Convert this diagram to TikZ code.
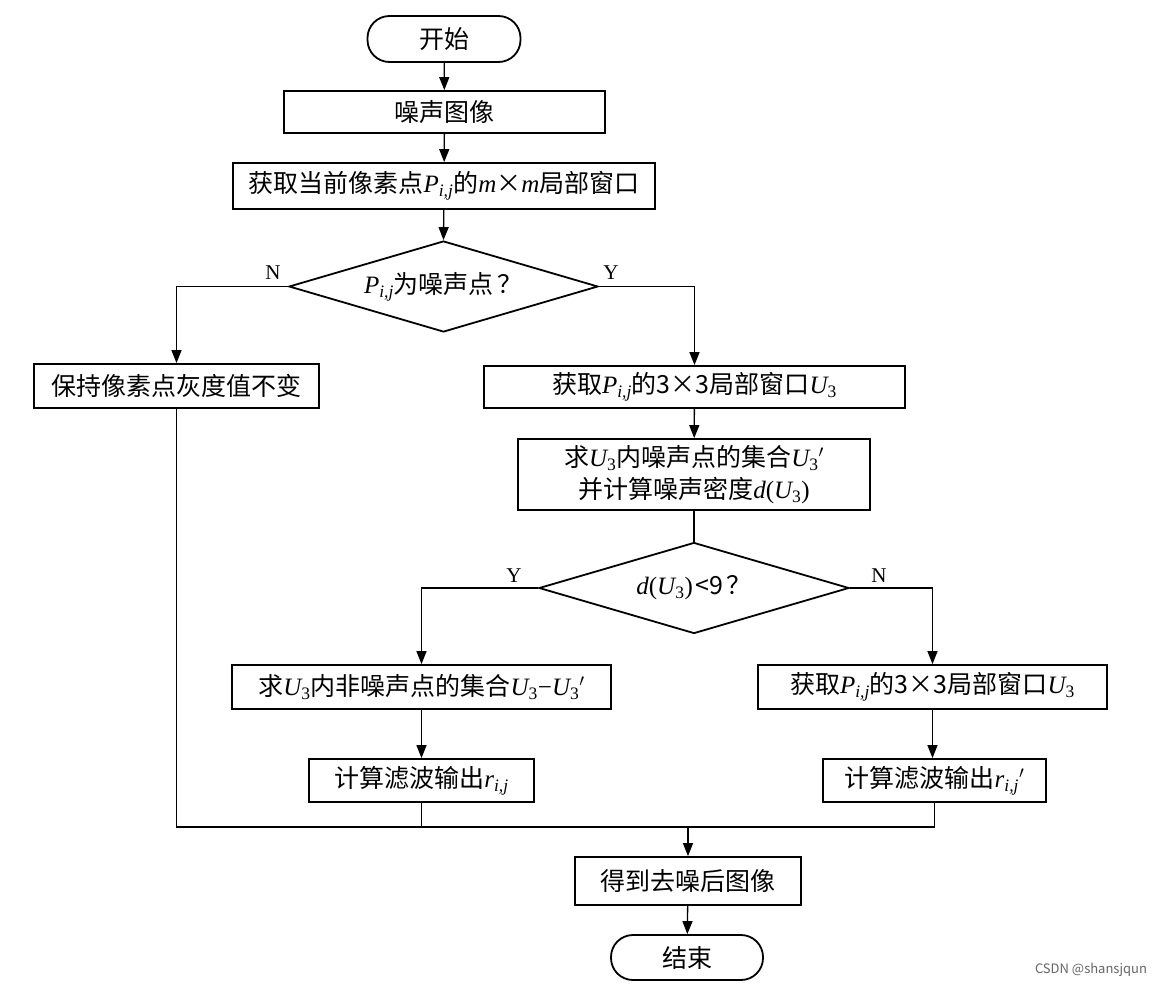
\documentclass[tikz,border=0pt]{standalone}
\usepackage{fontspec}
\setmainfont{Noto Sans CJK SC}
\newfontfamily\tnr{Liberation Serif}
\usetikzlibrary{arrows.meta,shapes.geometric}
\newcommand{\vi}[1]{{\tnr\itshape #1}}
\newcommand{\Pij}{\vi{P}\textsubscript{\vi{i,j}}}
\newcommand{\Uth}{\vi{U}\textsubscript{\tnr 3}}
\newcommand{\rij}{\vi{r}\textsubscript{\vi{i,j}}}
\newcommand{\fsz}{\fontsize{25}{32}\selectfont}
\tikzset{
  box/.style={draw, line width=1.8pt, inner sep=0pt, font=\fsz, align=center},
  term/.style={box, rounded corners=22pt},
  dec/.style={draw, diamond, line width=1.8pt, aspect=3.4, inner sep=0pt, font=\fsz},
  conn/.style={line width=1.3pt},
  arr/.style={conn, -{Triangle[length=13pt,width=10pt]}},
  yn/.style={font=\tnr\fontsize{21}{24}\selectfont, inner sep=0pt}
}
\begin{document}
\begin{tikzpicture}[x=1pt,y=-1pt]
\fill[white] (0,0) rectangle (1167,988);
\useasboundingbox (0,0) rectangle (1167,988);
\node[term, minimum width=153pt, minimum height=46pt] (start) at (444,39) {开始};
\node[box, minimum width=321pt, minimum height=42pt] (noisy) at (444.5,112) {噪声图像};
\node[box, minimum width=422pt, minimum height=46pt] (win) at (444,186) {获取当前像素点\Pij{}的\vi{m}×\vi{m}局部窗口};
\node[dec, minimum width=309pt, minimum height=91pt] (d1) at (443.5,286.5) {\Pij{}为噪声点\hspace{4pt}？};
\node[box, minimum width=285pt, minimum height=44pt] (keep) at (176.5,386) {保持像素点灰度值不变};
\node[box, minimum width=421pt, minimum height=42pt] (get3) at (694.5,387) {获取\Pij{}的3×3局部窗口\Uth};
\node[box, minimum width=352pt, minimum height=71pt] (set) at (694,474.5) {求\Uth{}内噪声点的集合\Uth${}'$\\并计算噪声密度\vi{d}{\tnr(}\Uth{\tnr)}};
\node[dec, minimum width=310pt, minimum height=91pt] (d2) at (694,588) {\vi{d}{\tnr(}\Uth{\tnr)}\hspace{3pt}<9\hspace{3pt}？};
\node[box, minimum width=379pt, minimum height=44pt] (nonset) at (421.5,687) {求\Uth{}内非噪声点的集合\Uth{\tnr −}\Uth${}'$};
\node[box, minimum width=349pt, minimum height=44pt] (getR) at (932.5,687) {获取\Pij{}的3×3局部窗口\Uth};
\node[box, minimum width=225pt, minimum height=43pt] (r) at (421.5,780.5) {计算滤波输出\rij};
\node[box, minimum width=223pt, minimum height=43pt] (rp) at (934.5,780.5) {计算滤波输出\rij${}'$};
\node[box, minimum width=226pt, minimum height=48pt] (den) at (688,881) {得到去噪后图像};
\node[term, minimum width=152pt, minimum height=45pt] (end) at (687,957.5) {结束};
\node[yn] (n1) at (273,273) {N};
\node[yn] (y1) at (611,273) {Y};
\node[yn] (y2) at (514,576) {Y};
\node[yn] (n2) at (879,576) {N};
\node[font=\fontsize{13}{15}\selectfont, text=black!60, inner sep=0pt] (wm) at (1091,970) {CSDN @shansjqun};
\coordinate (ml) at (176.5,827);
\draw[arr] (start) -- (noisy);
\draw[arr] (noisy) -- (win);
\draw[arr] (win) -- (d1.north);
\draw[arr] (d1.west) -| (keep.north);
\draw[arr] (d1.east) -| (get3.north);
\draw[arr] (get3) -- (set);
\draw[conn] (set.south) -- (d2.north);
\draw[arr] (d2.west) -| (nonset.north);
\draw[arr] (d2.east) -| (getR.north);
\draw[arr] (nonset) -- (r);
\draw[arr] (getR.south) -- (getR.south |- rp.north);
\draw[conn] (keep.south) -- (ml) -- (rp.south |- ml) -- (rp.south);
\draw[conn] (r.south) -- (r.south |- ml);
\draw[arr] (den.north |- ml) -- (den.north);
\draw[arr] (den) -- (end);
\end{tikzpicture}
\end{document}
